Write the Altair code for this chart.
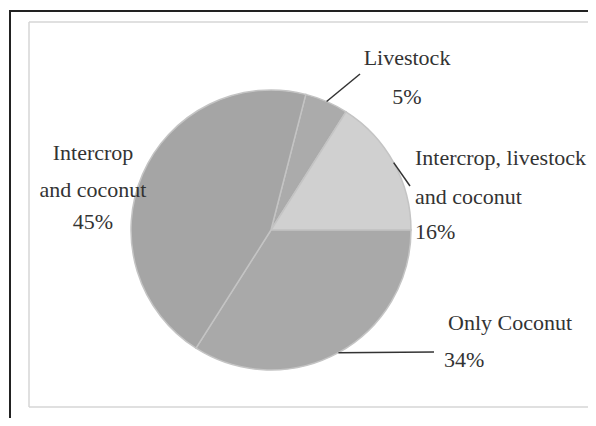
import math
import altair as alt
import pandas as pd

# ---- data ----
categories = ["Livestock", "Intercrop, livestock and coconut", "Only Coconut", "Intercrop and coconut"]
percent = [5, 16, 34, 45]
label_lines = [["Livestock"], ["Intercrop, livestock", "and coconut"], ["Only Coconut"], ["Intercrop", "and coconut"]]
colors = ["#ababab", "#d0d0d0", "#a9a9a9", "#a5a5a5"]

# ---- layout ----
W, H = 580, 410
CX, CY, R = 262, 222, 140
label_pos = [
    [(398, 50), (398, 89)],
    [(406, 150), (406, 189), (406, 224)],
    [(439, 315), (435, 352)],
    [(84, 145), (84, 182), (84, 214)],
]
label_align = ["center", "left", "left", "center"]
leader_end = [(351, 66), (401, 178), (425, 344), None]
FONT = "Liberation Serif, Times New Roman, Times, serif"

total = sum(percent)
start = math.pi / 2 - 2 * math.pi * (percent[0] + percent[1]) / total

pie_df = pd.DataFrame({"category": categories, "value": percent,
                       "order": list(range(len(categories)))})

pie = alt.Chart(pie_df).mark_arc(radius=R, x=CX, y=CY, stroke="#c4c4c4", strokeWidth=1.5).encode(
    theta=alt.Theta("value:Q", stack=True,
                    scale=alt.Scale(range=[start, start + 2 * math.pi])),
    color=alt.Color("category:N", scale=alt.Scale(domain=categories, range=colors), legend=None),
    order=alt.Order("order:Q"),
)

# label rows
rows = []
for i, cat in enumerate(categories):
    lines = label_lines[i] + [f"{percent[i]}%"]
    for j, t in enumerate(lines):
        x, y = label_pos[i][j]
        rows.append({"text": t, "x": x, "y": y, "align": label_align[i]})
lab_df = pd.DataFrame(rows)

def text_layer(align):
    return alt.Chart(lab_df).transform_filter(alt.datum.align == align).mark_text(
        align=align, baseline="middle", font=FONT, fontSize=22, color="#333333"
    ).encode(
        x=alt.X("x:Q", scale=None),
        y=alt.Y("y:Q", scale=None),
        text="text:N",
    )

# leader lines from slice mid-angles to labels
lrows = []
cum = 0
for i, v in enumerate(percent):
    mid = start + 2 * math.pi * (cum + v / 2) / total
    cum += v
    if leader_end[i] is None:
        continue
    sx = CX + R * math.sin(mid)
    sy = CY - R * math.cos(mid)
    ex, ey = leader_end[i]
    lrows.append({"x": sx, "y": sy, "x2": ex, "y2": ey})
lead_df = pd.DataFrame(lrows)
leaders = alt.Chart(lead_df).mark_rule(color="#333333", strokeWidth=1.5).encode(
    x=alt.X("x:Q", scale=None), y=alt.Y("y:Q", scale=None),
    x2="x2:Q", y2="y2:Q",
)

# frame
frame_df = pd.DataFrame([
    {"x": 0, "y": 3, "x2": W, "y2": 3, "c": "outer"},
    {"x": 1, "y": 3, "x2": 1, "y2": H, "c": "outer"},
    {"x": 20, "y": 14, "x2": W, "y2": 14, "c": "inner"},
    {"x": 20, "y": 14, "x2": 20, "y2": 399, "c": "inner"},
    {"x": 20, "y": 399, "x2": W, "y2": 399, "c": "inner"},
])
frame = alt.Chart(frame_df).mark_rule().encode(
    x=alt.X("x:Q", scale=None), y=alt.Y("y:Q", scale=None),
    x2="x2:Q", y2="y2:Q",
    color=alt.Color("c:N", scale=alt.Scale(domain=["outer", "inner"], range=["#222222", "#d6d6d6"]), legend=None),
    strokeWidth=alt.StrokeWidth("c:N", scale=alt.Scale(domain=["outer", "inner"], range=[2, 1.5]), legend=None),
)

chart = alt.layer(frame, pie, leaders, text_layer("left"), text_layer("center")).properties(
    width=W, height=H, padding=0, background="white",
    autosize=alt.AutoSizeParams(type="fit", contains="padding"),
).configure_view(stroke=None).resolve_scale(color="independent")

chart.save("out.html", embed_options={"renderer": "svg", "actions": False})
